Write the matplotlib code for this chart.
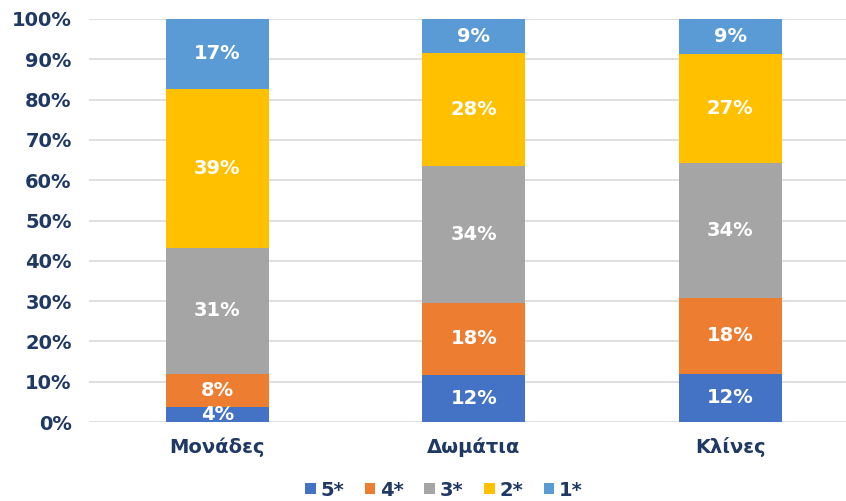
import matplotlib
matplotlib.use("Agg")
import matplotlib.pyplot as plt
import numpy as np

categories = ["Μονάδες", "Δωμάτια", "Κλίνες"]
series_names = ["5*", "4*", "3*", "2*", "1*"]
s5 = [3.7, 11.7, 12.0]
s4 = [8.3, 17.8, 18.7]
s3 = [31.3, 34.0, 33.5]
s2 = [39.4, 28.0, 27.1]
s1 = [17.3, 8.5, 8.7]
labels5 = ["4%", "12%", "12%"]
labels4 = ["8%", "18%", "18%"]
labels3 = ["31%", "34%", "34%"]
labels2 = ["39%", "28%", "27%"]
labels1 = ["17%", "9%", "9%"]
colors = ["#4472C4", "#ED7D31", "#A5A5A5", "#FFC000", "#5B9BD5"]
yticks = list(range(0, 101, 10))

navy = "#1F3864"
plt.rcParams['font.family'] = ['DejaVu Sans']
FS = 14

fig = plt.figure(figsize=(8.46, 5.01), dpi=100)
ax = fig.add_axes([89/846, 79/501, 1 - 89/846, (422-19)/501])

x = np.arange(len(categories))
series = [s5, s4, s3, s2, s1]
labels = [labels5, labels4, labels3, labels2, labels1]
bottom = np.zeros(len(categories))
handles = []
for vals, labs, name, col in zip(series, labels, series_names, colors):
    vals = np.array(vals)
    b = ax.bar(x, vals, 0.40, bottom=bottom, color=col, label=name, zorder=3)
    handles.append(b)
    for xi, v, bt, lab in zip(x, vals, bottom, labs):
        ax.text(xi, bt + v / 2, lab, ha="center", va="center", color="white",
                fontsize=FS, fontweight="bold", zorder=4, clip_on=True)
    bottom = bottom + vals

ax.set_ylim(0, 100)
ax.set_xlim(-0.5, -0.5 + (846 - 89) / 256.5)
ax.set_yticks(yticks)
ax.set_yticklabels([f"{t}%" for t in yticks])
ax.set_xticks(x)
ax.set_xticklabels(categories)
for lab in ax.get_yticklabels() + ax.get_xticklabels():
    lab.set_fontweight("bold")
    lab.set_color(navy)
    lab.set_fontsize(FS)
ax.tick_params(axis="both", length=0)
ax.tick_params(axis="y", pad=12.5)
ax.tick_params(axis="x", pad=11)
ax.grid(axis="y", color="#D9D9D9", linewidth=1.2, zorder=0)
for sp in ax.spines.values():
    sp.set_visible(False)

leg = fig.legend(handles=handles, labels=series_names, loc="center",
                 bbox_to_anchor=(444/846, 1 - 490/501), ncol=5, frameon=False,
                 handlelength=0.55, handleheight=0.55, handletextpad=0.25,
                 columnspacing=1.05, prop={"weight": "bold", "size": FS})
for t in leg.get_texts():
    t.set_color(navy)

fig.savefig("out.png", dpi=100)
